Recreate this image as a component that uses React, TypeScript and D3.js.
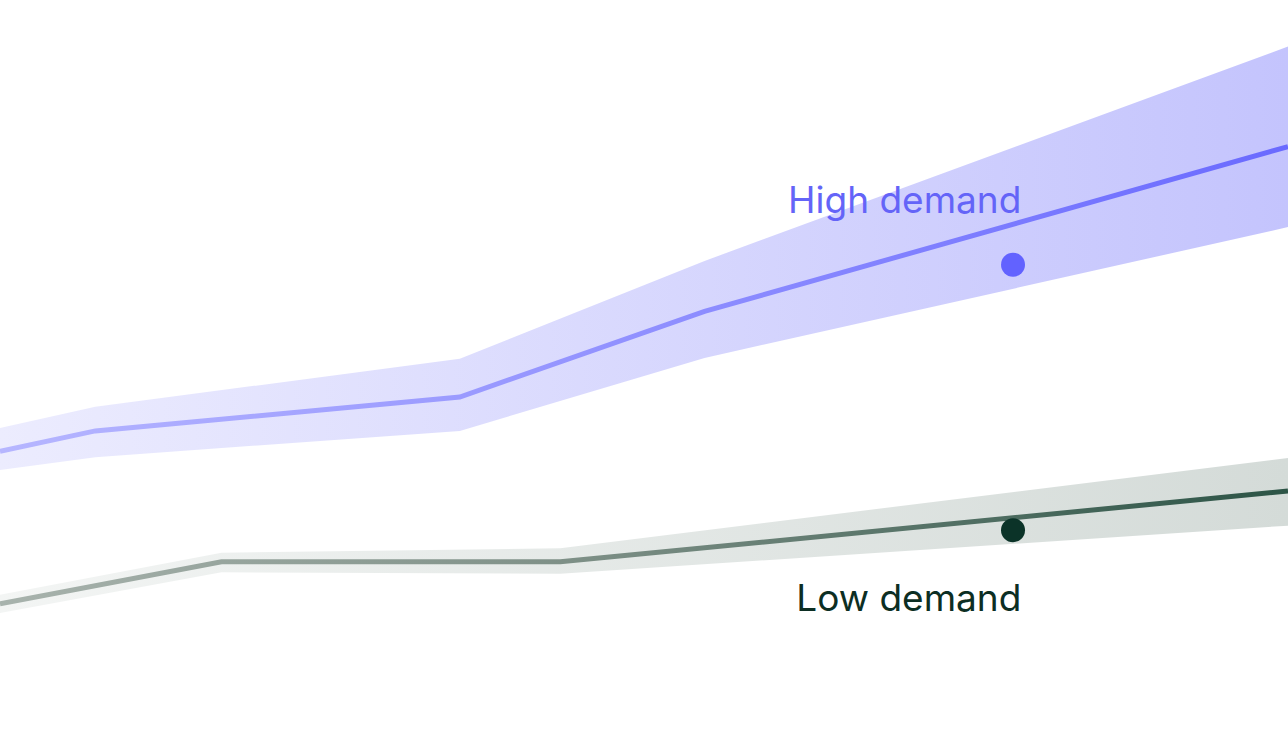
import React from "react";
import * as d3 from "d3";

const W = 1288;
const H = 752;

// horizontal position (0–100 of the visible span) and value (0–100 of the height)
const highT = [0, 7.4, 35.7, 54.7, 100];
const highMid = [40.0, 42.7, 47.2, 58.6, 80.5];
const highUpper = [43.1, 45.9, 52.3, 65.3, 93.8];
const highLower = [37.5, 39.2, 42.7, 52.4, 69.8];

const lowT = [0, 17.2, 43.5, 100];
const lowMid = [19.7, 25.3, 25.3, 34.7];
const lowUpper = [20.9, 26.5, 27.1, 39.1];
const lowLower = [18.5, 23.9, 23.7, 30.1];

const highDot = { t: 78.65, v: 64.8 };
const lowDot = { t: 78.65, v: 29.5 };

const labels = [
  { text: "High demand", t: 79.3, v: 71.7, color: "#6464f8" },
  { text: "Low demand", t: 79.3, v: 18.7, color: "#0c2e23" },
];

export default function App() {
  const x = d3.scaleLinear().domain([0, 100]).range([0, W]);
  const y = d3.scaleLinear().domain([0, 100]).range([H, 0]);

  const area = (t: number[], lo: number[], hi: number[]) =>
    d3
      .area<number>()
      .x((_, i) => x(t[i]))
      .y0((_, i) => y(lo[i]))
      .y1((_, i) => y(hi[i]))(t) as string;
  const line = (t: number[], v: number[]) =>
    d3
      .line<number>()
      .x((_, i) => x(t[i]))
      .y((_, i) => y(v[i]))(t) as string;

  return (
    <svg
      width={W}
      height={H}
      style={{ position: "absolute", left: 0, top: 0, background: "#fff" }}
    >
      <defs>
        <linearGradient id="hiBand" gradientUnits="userSpaceOnUse" x1={0} x2={W} y1={0} y2={0}>
          <stop offset="0" stopColor="#ececfe" />
          <stop offset="1" stopColor="#c4c4fd" />
        </linearGradient>
        <linearGradient id="hiLine" gradientUnits="userSpaceOnUse" x1={0} x2={W} y1={0} y2={0}>
          <stop offset="0" stopColor="#b6b6ff" />
          <stop offset="1" stopColor="#6a6aff" />
        </linearGradient>
        <linearGradient id="loBand" gradientUnits="userSpaceOnUse" x1={0} x2={W} y1={0} y2={0}>
          <stop offset="0" stopColor="#f3f5f4" />
          <stop offset="1" stopColor="#d4dbd8" />
        </linearGradient>
        <linearGradient id="loLine" gradientUnits="userSpaceOnUse" x1={0} x2={W} y1={0} y2={0}>
          <stop offset="0" stopColor="#a8b3ad" />
          <stop offset="0.45" stopColor="#7d8f86" />
          <stop offset="1" stopColor="#2c5446" />
        </linearGradient>
      </defs>

      <path d={area(highT, highLower, highUpper)} fill="url(#hiBand)" />
      <path d={line(highT, highMid)} fill="none" stroke="url(#hiLine)" strokeWidth={5} />

      <path d={area(lowT, lowLower, lowUpper)} fill="url(#loBand)" />
      <path d={line(lowT, lowMid)} fill="none" stroke="url(#loLine)" strokeWidth={5} />

      <circle cx={x(highDot.t)} cy={y(highDot.v)} r={12} fill="#6262ff" />
      <circle cx={x(lowDot.t)} cy={y(lowDot.v)} r={12} fill="#0b3328" />

      {labels.map((l) => (
        <text
          key={l.text}
          x={x(l.t)}
          y={y(l.v)}
          textAnchor="end"
          fill={l.color}
          style={{ fontFamily: "Inter, sans-serif", fontSize: 37 }}
        >
          {l.text}
        </text>
      ))}
    </svg>
  );
}
